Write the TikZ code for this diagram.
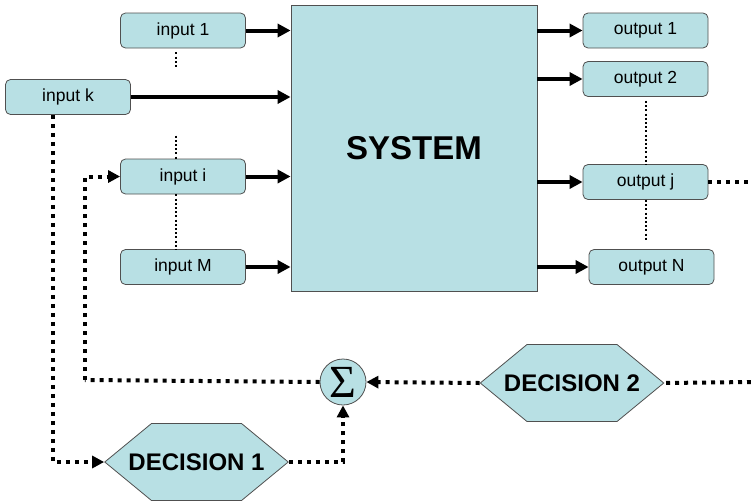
\documentclass[tikz,border=0pt]{standalone}
\usepackage{fontspec}
\setmainfont{Liberation Sans}
\newfontfamily\sumfont{Liberation Serif}
\usetikzlibrary{arrows.meta,shapes.symbols,positioning}

\definecolor{boxfill}{RGB}{184,224,228}
\definecolor{boxline}{RGB}{80,80,80}

\begin{document}
\begin{tikzpicture}[x=1pt, y=-1pt,
    box/.style={draw=boxline, line width=0.8pt, fill=boxfill, rounded corners=5pt,
        minimum width=125pt, minimum height=35pt, inner sep=0pt,
        font=\fontsize{17.5}{19}\selectfont},
    hexa/.style={shape=signal, signal to=east and west, signal pointer angle=79,
        draw=boxline, line width=0.8pt, fill=boxfill, inner ysep=0pt,
        inner xsep=-23pt, minimum height=77pt,
        font=\bfseries\fontsize{24}{26}\selectfont},
    arr/.style={line width=4pt, -{Triangle[length=13pt,width=13pt]}},
    fb/.style={line width=4pt, dash pattern=on 4pt off 5pt},
    fbarr/.style={fb, -{Triangle[length=12pt,width=12pt]}},
    dots/.style={line width=2pt, dash pattern=on 2pt off 2.2pt}]
    \useasboundingbox (0,0) rectangle (751,501);

    % System block
    \node[draw=boxline, line width=0.8pt, fill=boxfill, minimum width=246pt,
        minimum height=286pt, inner sep=0pt, font=\bfseries\fontsize{33}{35}\selectfont]
        (sys) at (414,148) {SYSTEM};

    % Inputs
    \node[box] (in1) at (183,30.5) {input 1};
    \node[box] (ink) at (68,97) {input k};
    \node[box] (ini) at (183,176.5) {input i};
    \node[box] (inM) at (183,267) {input M};

    % Outputs
    \node[box] (out1) at (645.5,30.5) {output 1};
    \node[box] (out2) at (645.5,79) {output 2};
    \node[box] (outj) at (645.5,182) {output j};
    \node[box] (outN) at (651.5,267) {output N};

    % Decisions and summing point
    \node[hexa] (dec1) at (196.5,462) {DECISION 1};
    \node[hexa] (dec2) at (572,383) {DECISION 2};
    \node[circle, draw=boxline, line width=0.8pt, fill=boxfill, minimum size=46pt,
        inner sep=0pt, font=\sumfont\fontsize{46}{46}\selectfont] (sig) at (343,382) {Σ};

    % Edges of the loop
    \coordinate (eastj) at (751,182);
    \coordinate (east2) at (751,382);
    \coordinate (turn) at (85,380);

    % Signal arrows
    \foreach \n in {in1,ink,ini,inM}
        \draw[arr] (\n.east) -- (\n.east -| sys.west);
    \foreach \n in {out1,out2,outj,outN}
        \draw[arr] (sys.east |- \n.west) -- (\n.west);

    % Omitted inputs / outputs
    \draw[dots] ([xshift=-7pt,yshift=-4pt]in1.south) -- ++(0,16);
    \draw[dots] ([xshift=-7pt,yshift=23pt]ini.north) -- ([xshift=-7pt]ini.north);
    \draw[dots] ([xshift=-7pt]ini.south) -- ([xshift=-7pt]inM.north);
    \draw[dots] ([yshift=-4pt]out2.south) -- (outj.north);
    \draw[dots] (outj.south) -- ([yshift=9pt]outj.south |- outN.north);

    % Feedback
    \draw[fb] (outj.east) -- (eastj);
    \draw[fb] (east2) -- (dec2.east);
    \draw[fbarr] (dec2.west) -- (sig.east);
    \draw[fbarr] ([xshift=-15pt]ink.south) |- (dec1.west);
    \draw[fbarr] (dec1.east) -| (sig.south);
    \draw[fb] (sig.west) -- (turn);
    \draw[fbarr] (turn) |- (ini.west);
\end{tikzpicture}
\end{document}
